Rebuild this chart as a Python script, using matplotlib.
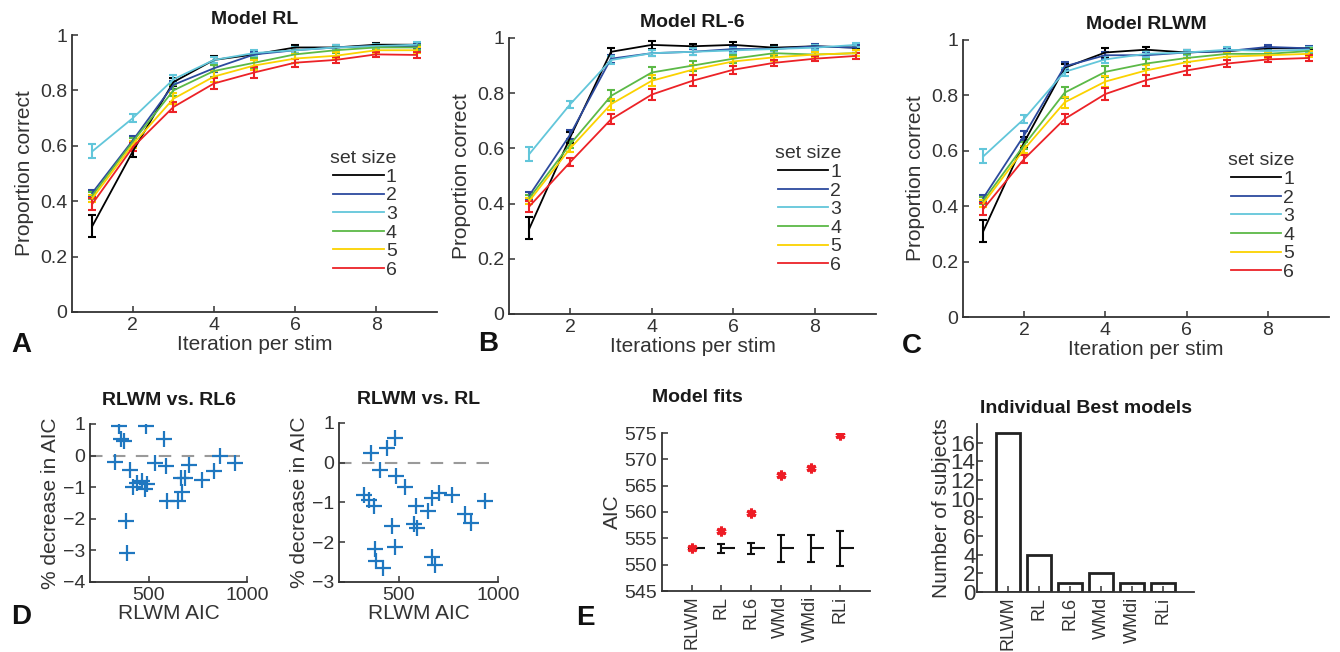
import matplotlib
matplotlib.use("Agg")
import matplotlib.pyplot as plt
import numpy as np

plt.rcParams['font.family'] = ['Liberation Sans', 'DejaVu Sans']
GREY = '#333333'
plt.rcParams['axes.edgecolor'] = GREY
plt.rcParams['xtick.color'] = GREY
plt.rcParams['ytick.color'] = GREY
plt.rcParams['text.color'] = GREY
plt.rcParams['axes.labelcolor'] = GREY

# ---- data: learning curves (proportion correct by iteration) ----
iterations = [1, 2, 3, 4, 5, 6, 7, 8, 9]
set_sizes = ['1', '2', '3', '4', '5', '6']
set_colors = ['#000000', '#2c4a9e', '#62c6da', '#5cb947', '#fbd200', '#ec2227']

rl_ss1 = [0.31, 0.58, 0.83, 0.91, 0.93, 0.955, 0.955, 0.965, 0.965]
rl_ss2 = [0.43, 0.62, 0.82, 0.88, 0.93, 0.945, 0.955, 0.96, 0.96]
rl_ss3 = [0.58, 0.70, 0.84, 0.91, 0.935, 0.945, 0.955, 0.96, 0.965]
rl_ss4 = [0.42, 0.615, 0.80, 0.87, 0.90, 0.93, 0.945, 0.955, 0.955]
rl_ss5 = [0.41, 0.605, 0.77, 0.85, 0.89, 0.915, 0.925, 0.945, 0.945]
rl_ss6 = [0.39, 0.595, 0.74, 0.825, 0.865, 0.90, 0.91, 0.93, 0.928]

rl6_ss1 = [0.31, 0.64, 0.95, 0.975, 0.97, 0.975, 0.965, 0.97, 0.965]
rl6_ss2 = [0.43, 0.65, 0.925, 0.945, 0.95, 0.96, 0.96, 0.97, 0.965]
rl6_ss3 = [0.58, 0.76, 0.92, 0.945, 0.95, 0.955, 0.96, 0.965, 0.975]
rl6_ss4 = [0.42, 0.615, 0.79, 0.875, 0.90, 0.925, 0.945, 0.94, 0.945]
rl6_ss5 = [0.41, 0.60, 0.76, 0.845, 0.885, 0.915, 0.93, 0.94, 0.945]
rl6_ss6 = [0.39, 0.55, 0.705, 0.795, 0.845, 0.885, 0.91, 0.925, 0.935]

rlwm_ss1 = [0.31, 0.63, 0.90, 0.955, 0.965, 0.955, 0.96, 0.97, 0.97]
rlwm_ss2 = [0.43, 0.655, 0.905, 0.945, 0.945, 0.955, 0.96, 0.975, 0.97]
rlwm_ss3 = [0.58, 0.715, 0.885, 0.93, 0.95, 0.955, 0.965, 0.96, 0.965]
rlwm_ss4 = [0.42, 0.62, 0.81, 0.885, 0.915, 0.935, 0.95, 0.95, 0.96]
rlwm_ss5 = [0.41, 0.605, 0.775, 0.85, 0.89, 0.92, 0.94, 0.945, 0.95]
rlwm_ss6 = [0.39, 0.57, 0.715, 0.805, 0.855, 0.89, 0.915, 0.93, 0.935]

# standard errors per set size (shared estimate)
err_ss1 = [0.04, 0.02, 0.015, 0.015, 0.01, 0.01, 0.008, 0.006, 0.006]
err_ss2 = [0.012, 0.015, 0.015, 0.012, 0.01, 0.01, 0.008, 0.008, 0.008]
err_ss3 = [0.025, 0.013, 0.015, 0.012, 0.012, 0.01, 0.008, 0.008, 0.008]
err_ss4 = [0.012, 0.012, 0.02, 0.02, 0.018, 0.015, 0.01, 0.01, 0.01]
err_ss5 = [0.012, 0.012, 0.02, 0.02, 0.018, 0.015, 0.012, 0.01, 0.01]
err_ss6 = [0.02, 0.015, 0.018, 0.02, 0.02, 0.015, 0.012, 0.01, 0.01]

# ---- data: AIC differences per subject ----
rlwm_aic = [325, 350, 360, 375, 382, 388, 405, 420, 440, 465, 480, 483, 488,
            530, 578, 586, 593, 650, 666, 670, 684, 702, 770, 834, 862, 937]
dec_vs_rl6 = [-0.21, 0.93, 0.51, 0.47, -2.06, -3.08, -0.44, -1.0, -0.87, -0.81,
              -1.05, 0.95, -0.9, -0.25, 0.54, -0.32, -1.45, -1.43, -0.71, -1.15,
              -0.71, -0.31, -0.76, -0.48, 0.0, -0.23]
dec_vs_rl = [-0.82, -0.93, 0.25, -1.09, -2.18, -2.46, -0.18, -2.66, 0.38, -1.6,
             -2.13, 0.63, -0.34, -0.6, -1.55, -1.09, -1.64, -1.22, -0.88, -2.36,
             -2.56, -0.76, -0.8, -1.29, -1.51, -0.96]

# ---- data: model comparison ----
models = ['RLWM', 'RL', 'RL6', 'WMd', 'WMdi', 'RLi']
mean_aic = [553.1, 556.3, 559.8, 567.0, 568.3, 574.6]
rlwm_mean = [553.1, 553.1, 553.1, 553.1, 553.1, 553.1]
aic_diff_err = [0.1, 0.8, 1.0, 2.6, 2.6, 3.3]
best_counts = [17, 4, 1, 2, 1, 1]

W, H = 1340, 652
fig = plt.figure(figsize=(W / 100, H / 100), dpi=100)


def box(l, t, r, b):
    return [l / W, 1 - b / H, (r - l) / W, (b - t) / H]


def style(ax):
    for s in ['top', 'right']:
        ax.spines[s].set_visible(False)
    for s in ['left', 'bottom']:
        ax.spines[s].set_linewidth(1.3)
    ax.tick_params(direction='in', labelsize=14, width=1.1, length=4)


curves = [
    ('Model RL', 'Iteration per stim', (72, 35, 437, 312),
     [rl_ss1, rl_ss2, rl_ss3, rl_ss4, rl_ss5, rl_ss6], (0.89, 0.12)),
    ('Model RL-6', 'Iterations per stim', (509, 38, 876, 314),
     [rl6_ss1, rl6_ss2, rl6_ss3, rl6_ss4, rl6_ss5, rl6_ss6], (0.905, 0.145)),
    ('Model RLWM', 'Iteration per stim', (963, 40, 1329, 317),
     [rlwm_ss1, rlwm_ss2, rlwm_ss3, rlwm_ss4, rlwm_ss5, rlwm_ss6], (0.905, 0.13)),
]
errs = [err_ss1, err_ss2, err_ss3, err_ss4, err_ss5, err_ss6]

for title, xlabel, rect, series, anchor in curves:
    ax = fig.add_axes(box(*rect))
    style(ax)
    for vals, e, c, lab in zip(series, errs, set_colors, set_sizes):
        ax.errorbar(iterations, vals, yerr=e, color=c, lw=1.3, elinewidth=1.5,
                    capsize=3, capthick=1.5, label=lab)
    ax.set_xlim(0.5, 9.5)
    ax.set_ylim(0, 1)
    ax.set_xticks([2, 4, 6, 8])
    ax.set_yticks([0, 0.2, 0.4, 0.6, 0.8, 1])
    ax.set_yticklabels(['0', '0.2', '0.4', '0.6', '0.8', '1'])
    ax.set_xlabel(xlabel, fontsize=15, labelpad=1)
    ax.set_ylabel('Proportion correct', fontsize=15, labelpad=4)
    ax.set_title(title, fontsize=14, fontweight='bold', color='#1a1a1a', pad=8)
    handles, labels = ax.get_legend_handles_labels()
    handles = [h[0] for h in handles]
    leg = ax.legend(handles, labels, title='set size', loc='lower right',
                    bbox_to_anchor=anchor, frameon=False, fontsize=14,
                    title_fontsize=14, handlelength=2.6, handletextpad=0.1,
                    labelspacing=0.05, borderpad=0, borderaxespad=0)
    leg._legend_box.align = 'right'

# scatter panels
scatters = [
    ('RLWM vs. RL6', (90, 424, 247, 582), dec_vs_rl6, (-4, 1)),
    ('RLWM vs. RL', (339, 423, 498, 582), dec_vs_rl, (-3, 1)),
]
for title, rect, yvals, ylim in scatters:
    ax = fig.add_axes(box(*rect))
    style(ax)
    ax.axhline(0, color='#9a9a9a', lw=1.5, ls=(0, (6, 5)), zorder=1)
    ax.plot(rlwm_aic, yvals, '+', color='#1f77c0', ms=12, mew=1.6, zorder=3)
    ax.set_xlim(200, 1000)
    ax.set_ylim(*ylim)
    ax.set_xticks([500, 1000])
    ax.set_yticks(range(ylim[0], ylim[1] + 1))
    ax.set_xlabel('RLWM AIC', fontsize=15, labelpad=0)
    ax.set_ylabel('% decrease in AIC', fontsize=15, labelpad=2)
    ax.set_title(title, fontsize=14, fontweight='bold', color='#1a1a1a', pad=14)

# model fits
ax = fig.add_axes(box(662, 433, 870, 591))
style(ax)
xs = np.arange(1, len(models) + 1)
ax.errorbar(xs, rlwm_mean, yerr=aic_diff_err, fmt='none', ecolor='#111111',
            elinewidth=1.5, capsize=3, capthick=1.5, zorder=2)
ax.hlines(rlwm_mean, xs, xs + 0.45, color='#111111', lw=1.5, zorder=2)
ax.plot(xs, mean_aic, ls='none', marker=(6, 2, 0), color='#ee1c25', ms=7,
        mew=2.2, zorder=3)
ax.set_xlim(0, 7)
ax.set_ylim(545, 575)
ax.set_yticks(range(545, 576, 5))
ax.set_xticks(xs)
ax.set_xticklabels(models, rotation=90, fontsize=13)
ax.set_ylabel('AIC', fontsize=15, labelpad=2)
ax.set_title('Model fits', fontsize=14, fontweight='bold', color='#1a1a1a',
             x=0.17, pad=22)

# individual best models
ax = fig.add_axes(box(977, 424, 1194, 592))
style(ax)
ax.bar(xs, best_counts, width=0.8, facecolor='white', edgecolor='#222222', lw=2)
ax.set_xlim(0, 7)
ax.set_ylim(0, 18)
ax.set_yticks(range(0, 17, 2))
ax.set_xticks(xs)
ax.set_xticklabels(models, rotation=90, fontsize=13)
ax.tick_params(axis='y', labelsize=16, pad=1)
ax.set_ylabel('Number of subjects', fontsize=15, labelpad=0)
ax.set_title('Individual Best models', fontsize=14, fontweight='bold',
             color='#1a1a1a', pad=8)

# panel letters
for lab, x, y in [('A', 21, 345), ('B', 488, 344), ('C', 912, 346),
                  ('D', 21, 617), ('E', 585, 618)]:
    fig.text(x / W, 1 - y / H, lab, fontsize=20, fontweight='bold',
             color='#111111', ha='center', va='center')

fig.savefig('out.png', dpi=100)
